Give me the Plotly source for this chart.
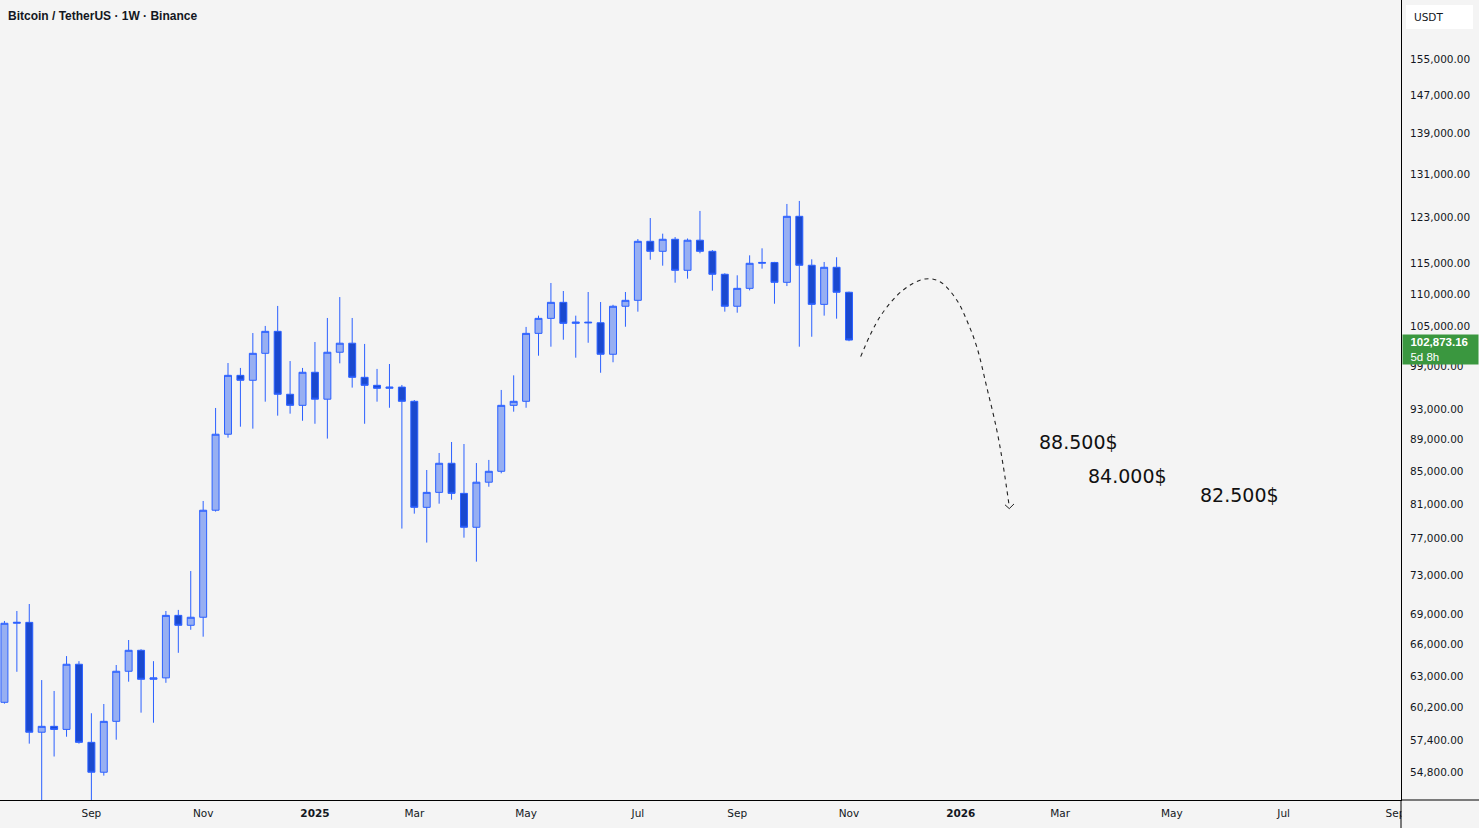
import plotly.graph_objects as go
import pandas as pd
import math

# ---------------- data (weekly BTC/USDT candles) ----------------
week_start = "2024-07-15"
n_weeks = 69
opens = [60650, 68060, 68150, 58060, 58560, 58300, 64110, 57210, 54770, 58990,
         63460, 65430, 62720, 62850, 68850, 67860, 68660, 80260, 89670, 97710,
         97010, 100900, 104190, 95050, 93530, 98150, 94370, 101060, 102400, 97430,
         96300, 95880, 96050, 94080, 80600, 82380, 85950, 82260, 78290, 83610,
         84950, 93530, 94080, 103880, 106180, 108690, 105410, 105600, 105500, 100760,
         108070, 109010, 118810, 117090, 119160, 113890, 119000, 117090, 113230, 108070,
         110930, 115060, 115200, 111910, 123220, 114730, 108370, 114390, 110300]
highs = [68290, 69290, 70000, 62650, 61660, 64880, 64400, 59690, 60500, 64040,
         66420, 65530, 64400, 69290, 69400, 73450, 81350, 93170, 99480, 98770,
         103930, 105010, 108120, 99770, 98770, 102580, 106240, 109530, 106240, 102290,
         98630, 99340, 96350, 94260, 85110, 87250, 88660, 88400, 85980, 86370,
         95650, 97710, 104860, 106600, 111800, 110500, 106600, 110340, 108740, 108300,
         110340, 119200, 122910, 120140, 119550, 119300, 124190, 117300, 113400, 113060,
         116400, 117600, 115300, 125460, 126010, 115730, 115280, 116080, 110400]
lows = [60530, 63410, 57100, 49000, 56040, 57680, 57100, 52550, 54500, 57430,
        62500, 59740, 58870, 62400, 65190, 67420, 66740, 80100, 89220, 90660,
        90400, 94030, 92130, 92400, 91450, 91050, 89100, 99440, 95980, 91050,
        94030, 93200, 78140, 79860, 76560, 81030, 81500, 77110, 74460, 83060,
        84700, 92670, 93200, 100550, 101880, 102920, 100260, 102470, 98080, 99590,
        104890, 107220, 115660, 114660, 111850, 112510, 116750, 110550, 107220, 107060,
        110600, 114160, 108470, 111300, 101880, 103370, 106600, 106130, 102700]
closes = [68060, 68150, 58060, 58560, 58300, 64110, 57210, 54770, 58990, 63460,
          65430, 62720, 62850, 68850, 67860, 68660, 80260, 89670, 97710, 97010,
          100900, 104190, 95050, 93530, 98150, 94370, 101060, 102400, 97430, 96300,
          95880, 96050, 94080, 80600, 82380, 85950, 82260, 78290, 83610, 84950,
          93530, 94080, 103880, 106180, 108690, 105410, 105600, 105500, 100760, 108070,
          109010, 118810, 117090, 119160, 113890, 119000, 117090, 113230, 108070, 110930,
          115060, 115200, 111910, 123220, 114730, 108370, 114390, 110300, 102873.16]
last_price = 102873.16
last_price_text = "102,873.16"
countdown_text = "5d 8h"

# projected path drawing (date, price)
arc_dates = ["2025-11-09 14:00", "2025-11-20 12:00", "2025-12-03 14:00", "2025-12-15 19:00",
             "2025-12-24 07:00", "2026-01-02 17:00", "2026-01-08 07:00", "2026-01-14 00:00",
             "2026-01-19 14:00", "2026-01-25 07:00", "2026-01-29 00:00", "2026-02-01 08:00"]
arc_prices = [100410, 106440, 110670, 112460, 112020, 109060, 105930, 101880,
              96100, 90220, 85530, 80680]
arrow_dates = ["2026-01-29 22:00", "2026-02-01 08:00", "2026-02-04 00:00"]
arrow_prices = [80900, 80450, 81000]

target_labels = ["88.500$", "84.000$", "82.500$"]
target_prices = [88500, 84000, 82500]
target_dates = ["2026-02-18", "2026-03-17 22:00", "2026-05-20"]
target_yshift = [1, 3, -4]

y_tick_vals = [155000, 147000, 139000, 131000, 123000, 115000, 110000, 105000, 99000,
               93000, 89000, 85000, 81000, 77000, 73000, 69000, 66000, 63000, 60200,
               57400, 54800]
x_tick_dates = ["2024-09-02", "2024-11-04", "2025-01-06", "2025-03-03", "2025-05-05",
                "2025-07-07", "2025-09-01", "2025-11-03", "2026-01-05", "2026-03-02",
                "2026-05-04", "2026-07-06", "2026-09-07"]
x_tick_labels = ["Sep", "Nov", "<b>2025</b>", "Mar", "May", "Jul", "Sep", "Nov",
                 "<b>2026</b>", "Mar", "May", "Jul", "Sep"]

title_text = "Bitcoin / TetherUS · 1W · Binance"
currency_text = "USDT"

# ---------------- styling ----------------
BG = "#f4f4f4"
TXT = "#131722"
W, H = 1479, 828
ML, MR, MT, MB = 0, 78, 0, 28
plot_w = W - ML - MR

dates = pd.date_range(week_start, periods=n_weeks, freq="7D")

fig = go.Figure()
fig.add_trace(go.Candlestick(
    x=dates, open=opens, high=highs, low=lows, close=closes,
    increasing=dict(fillcolor="#97aff2", line=dict(color="#2b60ff", width=1)),
    decreasing=dict(fillcolor="#1a49cf", line=dict(color="#2b60ff", width=1)),
    whiskerwidth=0, hoverinfo="skip", showlegend=False,
))
fig.add_trace(go.Scatter(
    x=arc_dates, y=arc_prices, mode="lines",
    line=dict(color="#222222", width=1.1, dash="4px,4px", shape="spline"),
    hoverinfo="skip", showlegend=False,
))
fig.add_trace(go.Scatter(
    x=arrow_dates, y=arrow_prices, mode="lines",
    line=dict(color="#222222", width=1),
    hoverinfo="skip", showlegend=False,
))

for lbl, p, d, ys in zip(target_labels, target_prices, target_dates, target_yshift):
    fig.add_annotation(x=d, y=math.log10(p), xref="x", yref="y", text=lbl,
                       showarrow=False, xanchor="left", yanchor="middle", yshift=ys, xshift=-2,
                       font=dict(family="DejaVu Sans", size=19, color="#111111"))

# title
fig.add_annotation(x=0, y=1, xref="paper", yref="paper", text="<b>" + title_text + "</b>",
                   showarrow=False, xanchor="left", yanchor="middle", xshift=6, yshift=-16,
                   font=dict(family="Liberation Sans", size=12, color=TXT))

# last price label
fig.add_annotation(x=1, y=math.log10(last_price), xref="paper", yref="y",
                   text="&nbsp;&nbsp;<b>" + last_price_text + "</b><br>&nbsp;&nbsp;" + countdown_text,
                   showarrow=False, xanchor="left", yanchor="top", xshift=1, yshift=6,
                   align="left", width=73, bgcolor="#3a973f", borderpad=1,
                   font=dict(family="Liberation Sans", size=11.5, color="white"))

# currency box
fig.add_shape(type="rect", xref="paper", yref="paper",
              x0=1 + 5 / plot_w, x1=1 + 72 / plot_w,
              y0=1 - 29 / (H - MB), y1=1 - 5 / (H - MB),
              fillcolor="white", line=dict(width=0), layer="above")
fig.add_annotation(x=1, y=1, xref="paper", yref="paper", text=currency_text,
                   showarrow=False, xanchor="left", yanchor="middle", xshift=11, yshift=-17,
                   font=dict(family="DejaVu Sans", size=10.5, color=TXT))

# cover the clipped time label area under the price scale, then extend the axis lines
fig.add_shape(type="rect", xref="paper", yref="paper",
              x0=1 + 0.5 / plot_w, x1=1 + 80 / plot_w, y0=-30 / (H - MB), y1=-1 / (H - MB),
              fillcolor=BG, line=dict(width=0), layer="above")
fig.add_shape(type="line", xref="paper", yref="paper",
              x0=1, x1=1 + 80 / plot_w, y0=0, y1=0,
              line=dict(color="black", width=1), layer="above")
fig.add_shape(type="line", xref="paper", yref="paper",
              x0=1, x1=1, y0=0, y1=-30 / (H - MB),
              line=dict(color="black", width=1), layer="above")

# axes geometry: 12.42 px per weekly bar, last bar (2025-11-03) at x=849
last_bar = pd.Timestamp("2025-11-03")
px_per_day = 12.42 / 7
x0 = last_bar - pd.Timedelta(days=849 / px_per_day)
x1 = last_bar + pd.Timedelta(days=(plot_w - 849) / px_per_day)

# log price axis: 155,000 at y=59, 685.6 px per ln unit
k = 685.6
p_top = 155000 * math.exp(59 / k)
p_bot = 155000 * math.exp(-(H - MB - 59) / k)

fig.update_layout(
    width=W, height=H,
    margin=dict(l=ML, r=MR, t=MT, b=MB, pad=0),
    paper_bgcolor=BG, plot_bgcolor=BG,
    boxgap=0.2, boxgroupgap=0.3,
    showlegend=False,
    xaxis=dict(
        type="date", range=[x0, x1], rangeslider=dict(visible=False),
        showgrid=False, zeroline=False, showline=True, linecolor="black", linewidth=1,
        tickmode="array", tickvals=x_tick_dates, ticktext=x_tick_labels,
        ticks="", ticklabelstandoff=3,
        tickfont=dict(family="DejaVu Sans", size=10.5, color=TXT),
        fixedrange=True,
    ),
    yaxis=dict(
        type="log", side="right", range=[math.log10(p_bot), math.log10(p_top)],
        showgrid=False, zeroline=False, showline=True, linecolor="black", linewidth=1,
        tickmode="array", tickvals=y_tick_vals,
        ticktext=[f"{v:,.2f}" for v in y_tick_vals],
        ticks="", ticklabelstandoff=6,
        tickfont=dict(family="DejaVu Sans", size=10.5, color=TXT),
        fixedrange=True,
    ),
)

fig.write_html("out.html")
